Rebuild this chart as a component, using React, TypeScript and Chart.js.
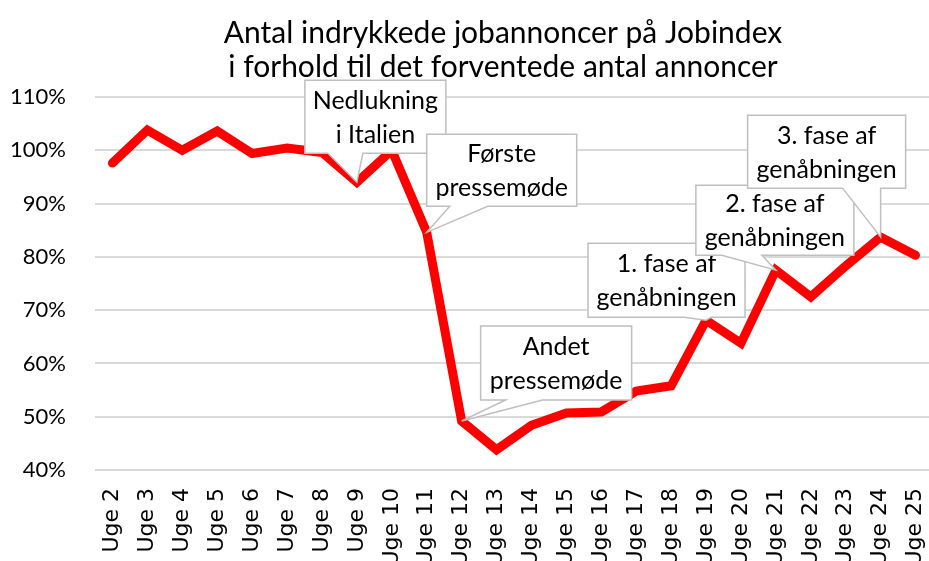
import React, { useEffect, useRef } from "react";
import { Chart, registerables } from "chart.js";

Chart.register(...registerables);

// ---------- data ----------
const weeks = [
  "Uge 2", "Uge 3", "Uge 4", "Uge 5", "Uge 6", "Uge 7", "Uge 8", "Uge 9",
  "Uge 10", "Uge 11", "Uge 12", "Uge 13", "Uge 14", "Uge 15", "Uge 16", "Uge 17",
  "Uge 18", "Uge 19", "Uge 20", "Uge 21", "Uge 22", "Uge 23", "Uge 24", "Uge 25",
];
const ratioPct = [
  97.6, 103.8, 100.0, 103.6, 99.4, 100.4, 99.6, 94.0,
  100.0, 84.6, 49.2, 43.8, 48.4, 50.7, 50.9, 54.8,
  55.8, 68.1, 63.8, 77.5, 72.5, 78.3, 83.7, 80.3,
];
const yMin = 40;
const yMax = 110;
const yStep = 10;
const titleLines = [
  "Antal indrykkede jobannoncer på Jobindex",
  "i forhold til det forventede antal annoncer",
];
const calloutWeeks = ["Uge 9", "Uge 11", "Uge 12", "Uge 19", "Uge 21", "Uge 24"];
const calloutTexts = [
  ["Nedlukning", "i Italien"],
  ["Første", "pressemøde"],
  ["Andet", "pressemøde"],
  ["1. fase af", "genåbningen"],
  ["2. fase af", "genåbningen"],
  ["3. fase af", "genåbningen"],
];

// ---------- layout of callout boxes (pixels relative to the pointed-at point) ----------
const calloutBoxes = [
  { dx: -52, dy: -102, w: 141, h: 73, b0: 23, b1: 58 },
  { dx: 0, dy: -98, w: 150, h: 72, b0: 23, b1: 61 },
  { dx: 19, dy: -95, w: 151, h: 74, b0: 25, b1: 62 },
  { dx: -118, dy: -77, w: 157, h: 74, b0: 96, b1: 123 },
  { dx: -80, dy: -85, w: 158, h: 70, b0: 26, b1: 66 },
  { dx: -133, dy: -122, w: 158, h: 73, b0: 95, b1: 133 },
];

const textFont = "Lato, 'Open Sans', sans-serif";

const titlePlugin = {
  id: "customTitle",
  afterDraw(chart: any) {
    const ctx = chart.ctx;
    ctx.save();
    ctx.fillStyle = "#000";
    ctx.font = `30px ${textFont}`;
    ctx.textAlign = "center";
    ctx.textBaseline = "alphabetic";
    ctx.fillText(titleLines[0], 503, 43);
    ctx.fillText(titleLines[1], 503, 77);
    ctx.restore();
  },
};

const calloutPlugin = {
  id: "callouts",
  afterDatasetsDraw(chart: any) {
    const ctx = chart.ctx;
    const xs = chart.scales.x;
    const ys = chart.scales.y;
    ctx.save();
    calloutWeeks.forEach((wk, i) => {
      const idx = weeks.indexOf(wk);
      const tx = xs.getPixelForValue(idx);
      const ty = ys.getPixelForValue(ratioPct[idx]);
      const b = calloutBoxes[i];
      const left = tx + b.dx;
      const top = ty + b.dy;
      const right = left + b.w;
      const bottom = top + b.h;
      ctx.beginPath();
      ctx.moveTo(left, top);
      ctx.lineTo(right, top);
      ctx.lineTo(right, bottom);
      ctx.lineTo(left + b.b1, bottom);
      ctx.lineTo(tx, ty);
      ctx.lineTo(left + b.b0, bottom);
      ctx.lineTo(left, bottom);
      ctx.closePath();
      ctx.fillStyle = "#ffffff";
      ctx.fill();
      ctx.strokeStyle = "#bfbfbf";
      ctx.lineWidth = 1.5;
      ctx.lineJoin = "miter";
      ctx.stroke();
      ctx.fillStyle = "#000";
      ctx.font = `25px ${textFont}`;
      ctx.textAlign = "center";
      ctx.textBaseline = "alphabetic";
      const cx = left + b.w / 2;
      const cy = top + b.h / 2;
      ctx.fillText(calloutTexts[i][0], cx, cy - 8);
      ctx.fillText(calloutTexts[i][1], cx, cy + 26);
    });
    ctx.restore();
  },
};

export default function App() {
  const canvasRef = useRef<HTMLCanvasElement | null>(null);

  useEffect(() => {
    const canvas = canvasRef.current;
    if (!canvas) return;
    const chart = new Chart(canvas, {
      type: "line",
      data: {
        labels: weeks,
        datasets: [
          {
            data: ratioPct,
            borderColor: "#ff0000",
            backgroundColor: "#ff0000",
            borderWidth: 9,
            pointRadius: 0,
            pointHoverRadius: 0,
            tension: 0,
            borderCapStyle: "round",
            borderJoinStyle: "miter",
            fill: false,
          },
        ],
      },
      options: {
        responsive: false,
        animation: false,
        events: [],
        layout: { padding: { left: 0, top: 97, right: 7, bottom: 10 } },
        plugins: {
          legend: { display: false },
          title: { display: false },
          tooltip: { enabled: false },
        },
        scales: {
          x: {
            type: "category",
            offset: true,
            grid: { display: false, drawTicks: false },
            border: { display: false },
            ticks: {
              autoSkip: false,
              minRotation: 90,
              maxRotation: 90,
              padding: 18,
              color: "#000",
              font: { family: "'DejaVu Sans', sans-serif", size: 22 },
            },
            afterFit(scale: any) {
              scale.height = 100;
              scale.paddingLeft = 0;
              scale.paddingRight = 0;
            },
          },
          y: {
            min: yMin,
            max: yMax,
            grid: { color: "#d9d9d9", lineWidth: 2, drawTicks: false },
            border: { display: false },
            ticks: {
              stepSize: yStep,
              padding: 29,
              color: "#000",
              font: { family: textFont, size: 22 },
              callback: (v: any) => `${v}%`,
            },
            afterFit(scale: any) {
              scale.width = 95;
            },
          },
        },
      },
      plugins: [calloutPlugin, titlePlugin],
    });
    return () => chart.destroy();
  }, []);

  return (
    <div
      style={{
        position: "fixed",
        left: 0,
        top: 0,
        width: 929,
        height: 561,
        overflow: "hidden",
        background: "#fff",
      }}
    >
      <canvas ref={canvasRef} width={940} height={580} style={{ display: "block" }} />
    </div>
  );
}
